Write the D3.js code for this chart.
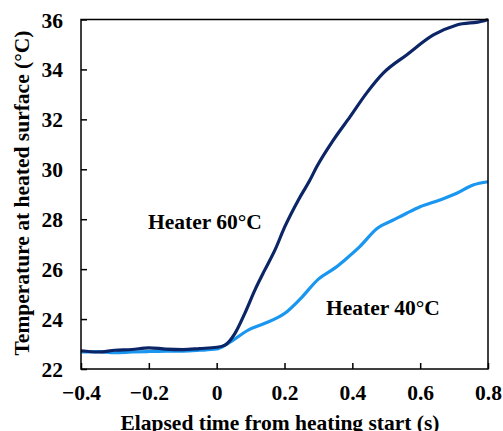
<!DOCTYPE html>
<html>
<head>
<meta charset="utf-8">
<script src="https://cdn.jsdelivr.net/npm/d3@7"></script>
<style>
	body { margin: 0; background: #fff; }
	text { font-family: "Liberation Serif", "Times New Roman", serif; font-weight: bold; }
</style>
</head>
<body>
<div id="svg-container"></div>
<script>
// DATA
// heater 60°C (dark curve)
const time60 = [-0.4, -0.35, -0.3, -0.25, -0.2, -0.15, -0.1, -0.05, 0, 0.0245, 0.054, 0.083, 0.113, 0.142, 0.172, 0.201, 0.241, 0.275, 0.295, 0.344, 0.393, 0.442, 0.491, 0.56, 0.639, 0.708, 0.786, 0.8];
const temp60 = [22.73, 22.68, 22.75, 22.78, 22.85, 22.8, 22.78, 22.82, 22.87, 22.96, 23.43, 24.23, 25.17, 25.97, 26.77, 27.7, 28.77, 29.57, 30.1, 31.17, 32.1, 33.05, 33.85, 34.58, 35.38, 35.78, 35.94, 36.0];
// heater 40°C (light curve)
const time40 = [-0.4, -0.35, -0.3, -0.25, -0.2, -0.15, -0.1, -0.05, 0, 0.034, 0.093, 0.142, 0.201, 0.246, 0.3, 0.349, 0.378, 0.422, 0.472, 0.521, 0.56, 0.6, 0.658, 0.708, 0.756, 0.8];
const temp40 = [22.68, 22.7, 22.65, 22.68, 22.7, 22.72, 22.72, 22.75, 22.8, 23.03, 23.56, 23.83, 24.23, 24.8, 25.6, 26.05, 26.37, 26.9, 27.62, 27.97, 28.24, 28.5, 28.77, 29.04, 29.37, 29.5];

const xTicks = [-0.4, -0.2, 0, 0.2, 0.4, 0.6, 0.8];
const yTicks = [22, 24, 26, 28, 30, 32, 34, 36];

function graphData() {
	// graph dimension
	const w = 503;
	const h = 431;
	const left = 81, right = 488, top = 19.5, bottom = 369;
	const fontSize = "21.5px";

	const xScale = d3.scaleLinear().domain([-0.4, 0.8]).range([left, right]);
	const yScale = d3.scaleLinear().domain([22, 36]).range([bottom, top]);

	const svg = d3.select("#svg-container")
		.append("svg")
		.attr("width", w)
		.attr("height", h);

	// curves
	const line = d3.line()
		.x(d => xScale(d[0]))
		.y(d => yScale(d[1]))
		.curve(d3.curveMonotoneX);

	svg.append("path")
		.datum(time40.map((t, i) => [t, temp40[i]]))
		.attr("fill", "none")
		.attr("stroke", "#1996f0")
		.attr("stroke-width", 3.2)
		.attr("d", line);

	svg.append("path")
		.datum(time60.map((t, i) => [t, temp60[i]]))
		.attr("fill", "none")
		.attr("stroke", "#0b2566")
		.attr("stroke-width", 3.2)
		.attr("d", line);

	// frame
	svg.append("rect")
		.attr("x", left).attr("y", top)
		.attr("width", right - left).attr("height", bottom - top)
		.attr("fill", "none")
		.attr("stroke", "#000")
		.attr("stroke-width", 1.5);

	// x axis
	const xAxis = svg.append("g")
		.attr("transform", `translate(0,${bottom})`)
		.call(d3.axisBottom(xScale).tickValues(xTicks).tickSizeInner(-6).tickSizeOuter(0).tickFormat(d => d === 0 ? "0" : d3.format(".1f")(d)));
	xAxis.select(".domain").remove();
	xAxis.selectAll("line").attr("stroke", "#000").attr("stroke-width", 1.5);
	xAxis.selectAll("text")
		.attr("y", 31).attr("dy", 0)
		.attr("fill", "#000")
		.style("font-size", fontSize)
		.style("font-family", "Liberation Serif, serif")
		.style("font-weight", "bold");

	// y axis
	const yAxis = svg.append("g")
		.attr("transform", `translate(${left},0)`)
		.call(d3.axisLeft(yScale).tickValues(yTicks).tickSizeInner(-6).tickSizeOuter(0));
	yAxis.select(".domain").remove();
	yAxis.selectAll("line").attr("stroke", "#000").attr("stroke-width", 1.5);
	yAxis.selectAll("text")
		.attr("x", -18).attr("dy", "0.35em")
		.attr("fill", "#000")
		.style("font-size", fontSize)
		.style("font-family", "Liberation Serif, serif")
		.style("font-weight", "bold");

	// axis titles
	svg.append("text")
		.attr("x", 280).attr("y", 430)
		.attr("text-anchor", "middle")
		.style("font-size", fontSize)
		.text("Elapsed time from heating start (s)");

	svg.append("text")
		.attr("transform", "translate(29,193) rotate(-90)")
		.attr("text-anchor", "middle")
		.style("font-size", fontSize)
		.text("Temperature at heated surface (°C)");

	// annotations
	svg.append("text")
		.attr("x", 148).attr("y", 229)
		.style("font-size", fontSize)
		.text("Heater 60°C");

	svg.append("text")
		.attr("x", 326).attr("y", 315)
		.style("font-size", fontSize)
		.text("Heater 40°C");
}

document.addEventListener('DOMContentLoaded', () => {
	graphData();
});
</script>
</body>
</html>
